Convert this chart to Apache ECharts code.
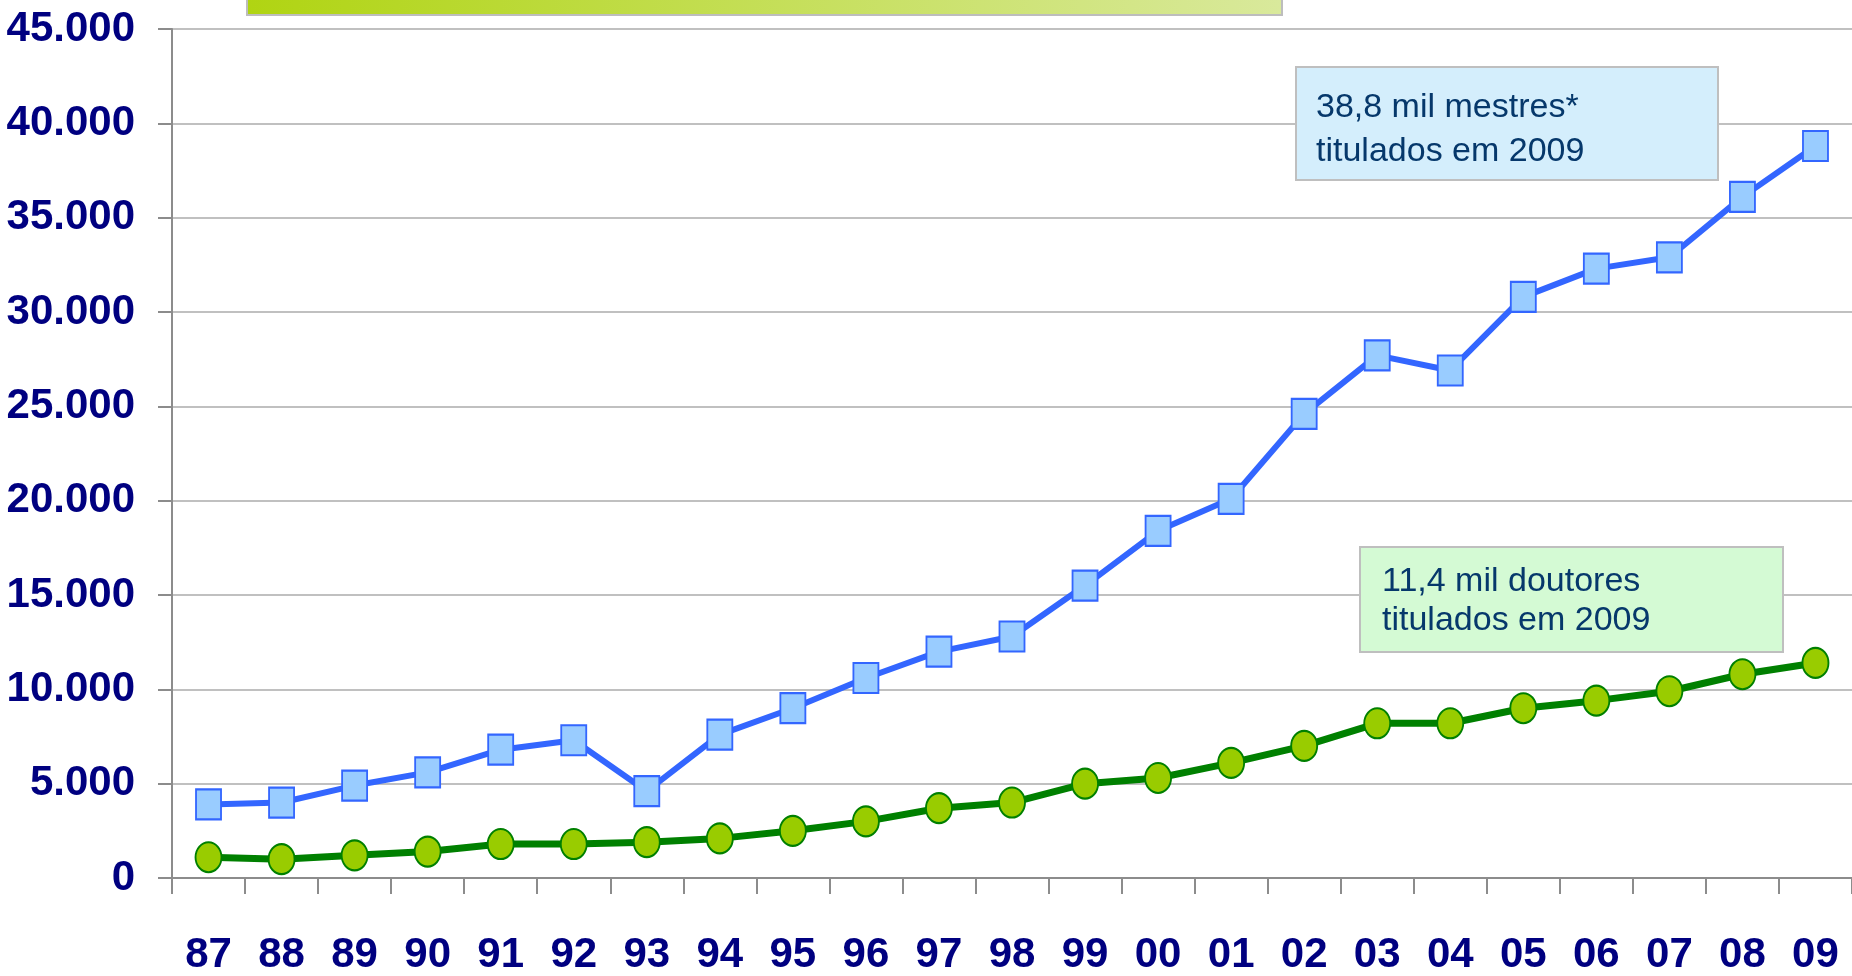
<!DOCTYPE html>
<html>
<head>
<meta charset="utf-8">
<script src="https://cdn.jsdelivr.net/npm/echarts@6/dist/echarts.min.js"></script>
<style>
html,body{margin:0;padding:0;background:#fff;}
#chart{width:1852px;height:976px;}
</style>
</head>
<body>
<div id="chart"></div>
<script>
const years = ['87','88','89','90','91','92','93','94','95','96','97','98','99','00','01','02','03','04','05','06','07','08','09'];
const mestres = [3900,4000,4900,5600,6800,7300,4600,7600,9000,10600,12000,12800,15500,18400,20100,24600,27700,26900,30800,32300,32900,36100,38800];
const doutores = [1100,1000,1200,1400,1800,1800,1900,2100,2500,3000,3700,4000,5000,5300,6100,7000,8200,8200,9000,9400,9900,10800,11400];
const noteMestres = ['38,8 mil mestres*', 'titulados em 2009'];
const noteDoutores = ['11,4 mil doutores', 'titulados em 2009'];

const chart = echarts.init(document.getElementById('chart'));
const labelFont = '"Liberation Sans", Arial, sans-serif';
const textFont = '"Liberation Sans", Arial, sans-serif';

function note(x, y, txt) {
  return {
    type: 'text', z: 11, x: x, y: y,
    style: { text: txt, fontSize: 34, fontFamily: textFont, fill: '#06386b', verticalAlign: 'bottom', align: 'left' }
  };
}

chart.setOption({
  animation: false,
  backgroundColor: '#ffffff',
  grid: { left: 172, right: 0, top: 29, bottom: 93, containLabel: false },
  xAxis: {
    type: 'category',
    data: years,
    boundaryGap: true,
    axisLine: { show: true, lineStyle: { color: '#8c8c8c', width: 2 } },
    axisTick: { show: true, length: 16, lineStyle: { color: '#8c8c8c', width: 2 } },
    axisLabel: { margin: 56, color: '#000080', fontSize: 42, fontWeight: 'bold', fontFamily: labelFont },
    splitLine: { show: false }
  },
  yAxis: {
    type: 'value',
    min: 0, max: 45000, interval: 5000,
    axisLine: { show: true, lineStyle: { color: '#8c8c8c', width: 2 } },
    axisTick: { show: true, length: 14, lineStyle: { color: '#8c8c8c', width: 2 } },
    axisLabel: {
      margin: 37, color: '#000080', fontSize: 42, fontWeight: 'bold', fontFamily: labelFont,
      formatter: v => v === 0 ? '0' : v.toLocaleString('de-DE')
    },
    splitLine: { show: true, lineStyle: { color: '#c0c0c0', width: 2 } }
  },
  series: [
    {
      name: 'Mestres', type: 'line', data: mestres,
      symbol: 'rect', symbolSize: [25, 30],
      lineStyle: { color: '#3366ff', width: 6 },
      itemStyle: { color: '#99ccff', borderColor: '#3366ff', borderWidth: 2 },
      z: 3
    },
    {
      name: 'Doutores', type: 'line', data: doutores,
      symbol: 'circle', symbolSize: [26, 30],
      lineStyle: { color: '#008000', width: 7 },
      itemStyle: { color: '#99cc00', borderColor: '#008000', borderWidth: 2 },
      z: 3
    }
  ],
  graphic: [
    {
      type: 'rect', z: 10,
      shape: { x: 247, y: -4, width: 1035, height: 19 },
      style: {
        fill: new echarts.graphic.LinearGradient(0, 0, 1, 0, [
          { offset: 0, color: '#b0d412' },
          { offset: 1, color: '#d9e99c' }
        ]),
        stroke: '#bdbdbd', lineWidth: 2
      }
    },
    {
      type: 'rect', z: 10,
      shape: { x: 1296, y: 67, width: 422, height: 113 },
      style: { fill: '#d4eefc', stroke: '#bfbfbf', lineWidth: 2 }
    },
    note(1316, 125, noteMestres[0]),
    note(1316, 169, noteMestres[1]),
    {
      type: 'rect', z: 10,
      shape: { x: 1360, y: 547, width: 423, height: 105 },
      style: { fill: '#d4fad4', stroke: '#bfbfbf', lineWidth: 2 }
    },
    note(1382, 599, noteDoutores[0]),
    note(1382, 638, noteDoutores[1])
  ]
});
</script>
</body>
</html>
